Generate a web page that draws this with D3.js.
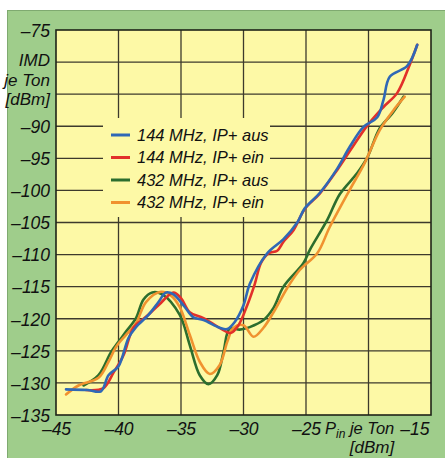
<!DOCTYPE html>
<html><head><meta charset="utf-8">
<script src="https://cdn.jsdelivr.net/npm/d3@7"></script>
<style>
html,body{margin:0;padding:0;background:#fff;}
svg{display:block;}
text{font-family:"Liberation Sans Narrow","Arial Narrow","Liberation Sans",sans-serif;font-style:italic;fill:#111;}
</style></head>
<body>
<script>
const xTicks = [-45,-40,-35,-30,-25,-20,-15];
const xTickLabels = ["–45","–40","–35","–30","–25","","–15"];
const yTicks = [-75,-80,-85,-90,-95,-100,-105,-110,-115,-120,-125,-130,-135];
const yTickLabels = ["–75","","","–90","–95","–100","–105","–110","–115","–120","–125","–130","–135"];
const yTitle = ["IMD","je Ton","[dBm]"];
const seriesNames = ["144 MHz, IP+ aus","144 MHz, IP+ ein","432 MHz, IP+ aus","432 MHz, IP+ ein"];
const seriesColors = ["#2f68b6","#e2302a","#2c6e2e","#f0922f"];

const blue = [[-44.2,-131.0],[-42.5,-131.1],[-41.4,-131.3],[-40.8,-128.8],[-40,-127.4],[-39.2,-123.0],[-38.6,-121.3],[-37.6,-119.4],[-36.8,-117.4],[-36.2,-115.9],[-35.6,-116.2],[-34.8,-117.9],[-34.0,-119.8],[-33.2,-120.2],[-31.9,-121.4],[-31.3,-121.6],[-30.7,-120.5],[-30.0,-117.9],[-29.5,-114.6],[-28.1,-109.8],[-26.8,-107.6],[-25.7,-105.0],[-25.1,-102.8],[-23.9,-100.4],[-22.5,-96.6],[-21.5,-93.2],[-20.4,-90.1],[-19.3,-88.6],[-18.8,-85.9],[-18.3,-82.3],[-16.9,-80.6],[-16.1,-77.3]];
const red = [[-42.6,-131.1],[-41.2,-130.8],[-40.4,-128.4],[-39.6,-125.7],[-38.8,-121.4],[-37.8,-119.7],[-36.8,-117.9],[-35.6,-115.9],[-35.0,-116.8],[-34.3,-119.0],[-33.2,-119.9],[-31.3,-122.1],[-31.0,-122.2],[-30.4,-121.0],[-29.7,-117.9],[-29.1,-114.6],[-28.6,-111.3],[-28.0,-109.8],[-27.3,-109.4],[-26.8,-108.0],[-26.0,-106.2],[-25.1,-102.9],[-23.9,-100.5],[-22.5,-96.8],[-21.4,-93.6],[-20.1,-89.9],[-18.8,-87.0],[-17.7,-84.8],[-16.7,-80.4],[-16.1,-77.3]];
const green = [[-42.8,-130.4],[-41.6,-128.8],[-40.6,-125.2],[-40.0,-123.6],[-39.4,-122.0],[-38.6,-119.9],[-38.0,-117.0],[-37.3,-115.9],[-36.5,-116.2],[-35.1,-119.4],[-34.3,-124.1],[-33.5,-128.8],[-32.8,-130.2],[-32.1,-128.8],[-31.6,-125.2],[-31.1,-121.5],[-30.3,-121.7],[-29.5,-121.3],[-28.4,-120.2],[-27.6,-118.3],[-26.8,-115.0],[-25.2,-111.3],[-24.7,-109.3],[-23.3,-104.6],[-22.3,-100.6],[-20.9,-97.3],[-20.1,-94.9],[-19.1,-90.3],[-18.1,-88.0],[-17.2,-85.4]];
const orange = [[-44.2,-131.8],[-43.2,-130.4],[-41.6,-129.2],[-40.8,-126.7],[-40.2,-124.4],[-39.4,-122.5],[-38.6,-120.7],[-37.8,-117.4],[-36.6,-115.8],[-35.8,-116.4],[-35.1,-118.2],[-34.3,-122.5],[-33.5,-126.7],[-32.7,-128.6],[-31.9,-127.2],[-31.3,-123.6],[-30.8,-121.4],[-30.0,-121.0],[-29.2,-122.8],[-28.4,-121.4],[-27.6,-119.0],[-26.5,-115.2],[-25.5,-112.4],[-24.1,-109.8],[-23.1,-105.7],[-21.5,-99.9],[-20.3,-95.7],[-19.1,-90.6],[-18.0,-87.5],[-17.1,-85.4]];
const seriesData = [blue, red, green, orange];

const W = 445, H = 458;
const M = {left:56, top:30, right:14, bottom:43};
const x = d3.scaleLinear().domain([-45,-15]).range([M.left, W - M.right]);
const y = d3.scaleLinear().domain([-135,-75]).range([H - M.bottom, M.top]);
const plotBg = "#fdf9a6";

const svg = d3.select("body").append("svg").attr("width", W).attr("height", H);
svg.append("rect").attr("x",0).attr("y",0).attr("width",W).attr("height",H).attr("fill","#fff");
svg.append("rect").attr("x",7.5).attr("y",10.5).attr("width",W-7).attr("height",H-10)
  .attr("fill","#9fcd8b").attr("stroke","#7faa70").attr("stroke-width",1);
svg.append("rect").attr("x",x(-45)).attr("y",y(-75)).attr("width",x(-15)-x(-45)).attr("height",y(-135)-y(-75))
  .attr("fill",plotBg);

const gridCol = "#3d3a2c";
svg.append("g").selectAll("line").data(xTicks.slice(1,-1)).join("line")
  .attr("x1",d=>x(d)).attr("x2",d=>x(d)).attr("y1",y(-75)).attr("y2",y(-135))
  .attr("stroke",gridCol).attr("stroke-width",1.3);
svg.append("g").selectAll("line").data(yTicks.slice(1,-1)).join("line")
  .attr("y1",d=>y(d)).attr("y2",d=>y(d)).attr("x1",x(-45)).attr("x2",x(-15))
  .attr("stroke",gridCol).attr("stroke-width",1.3);

// legend backdrop covering grid
svg.append("rect").attr("x",103).attr("y",118).attr("width",167).attr("height",99).attr("fill",plotBg);

const line = d3.line().x(d=>x(d[0])).y(d=>y(d[1])).curve(d3.curveCatmullRom.alpha(0.5));
const drawOrder = [2,3,1,0];
svg.append("g").selectAll("path").data(drawOrder).join("path")
  .attr("d",i=>line(seriesData[i])).attr("fill","none")
  .attr("stroke",i=>seriesColors[i]).attr("stroke-width",2.6)
  .attr("stroke-linejoin","round").attr("stroke-linecap","round");

svg.append("rect").attr("x",x(-45)).attr("y",y(-75)).attr("width",x(-15)-x(-45)).attr("height",y(-135)-y(-75))
  .attr("fill","none").attr("stroke","#1e2418").attr("stroke-width",1.6);

// axes
const yAxis = d3.axisLeft(y).tickValues(yTicks).tickSize(0).tickPadding(6)
  .tickFormat((d,i)=>yTickLabels[i]);
const gy = svg.append("g").attr("transform",`translate(${x(-45)},0)`).call(yAxis);
gy.select(".domain").remove();
gy.selectAll("text").attr("font-size",17.5).attr("dy","0.36em")
  .style("font-family","'Liberation Sans Narrow','Arial Narrow',sans-serif").style("font-style","italic").attr("fill","#111");

const xAxis = d3.axisBottom(x).tickValues(xTicks).tickSize(0).tickPadding(8)
  .tickFormat((d,i)=>xTickLabels[i]);
const gx = svg.append("g").attr("transform",`translate(0,${y(-135)})`).call(xAxis);
gx.select(".domain").remove();
gx.selectAll("text").attr("font-size",17.5)
  .style("font-family","'Liberation Sans Narrow','Arial Narrow',sans-serif").style("font-style","italic").attr("fill","#111");
gx.selectAll(".tick").filter(d=>d===-15).select("text").attr("text-anchor","end").attr("dx",-2);

// y title
svg.append("g").selectAll("text").data(yTitle).join("text")
  .attr("x",50).attr("y",(d,i)=>66+i*19.5).attr("text-anchor","end").attr("font-size",17).text(d=>d);

// x title
const xt = svg.append("text").attr("x",325).attr("y",434).attr("font-size",16.5);
xt.append("tspan").text("P");
xt.append("tspan").attr("font-size",12).attr("dy",4).text("in");
xt.append("tspan").attr("dy",-4).text(" je Ton");
svg.append("text").attr("x",372).attr("y",453).attr("text-anchor","middle").attr("font-size",17).text("[dBm]");

// legend
const lg = svg.append("g").selectAll("g").data(seriesNames).join("g")
  .attr("transform",(d,i)=>`translate(111,${135+i*22.5})`);
lg.append("line").attr("x1",0).attr("x2",19).attr("stroke",(d,i)=>seriesColors[i]).attr("stroke-width",3);
lg.append("text").attr("x",26).attr("dy","0.36em").attr("font-size",16.5).text(d=>d);
</script>
</body></html>
